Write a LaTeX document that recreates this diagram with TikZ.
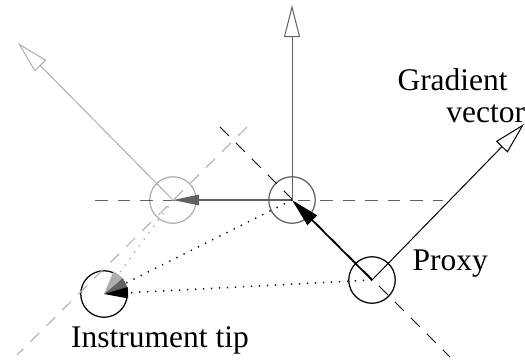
\documentclass[tikz,border=0pt]{standalone}
\usepackage{fontspec}
\setmainfont{Liberation Serif}
\usetikzlibrary{arrows.meta}
\definecolor{darkgrey}{gray}{0.38}
\definecolor{palegrey}{gray}{0.68}

\begin{document}
\begin{tikzpicture}[
  x=0.4pt, y=-0.4pt,
  font=\fontsize{12.6}{12.8}\selectfont,
  ring/.style={draw, circle, minimum size=18.6pt, inner sep=0pt, line width=0.5pt},
  guide/.style={dash pattern=on 5pt off 4pt, line width=0.4pt},
  trail/.style={dash pattern=on 0.5pt off 2.7pt, line width=0.6pt},
  vec/.style={-{Triangle[open, length=12.8pt, width=6.4pt]}, line width=0.4pt},
  move/.style={-{Triangle[length=11.5pt, width=5.4pt]}, line width=0.6pt},
  pull/.style={-{Triangle[length=9.6pt, width=4.4pt, color=#1]}},
  lbl/.style={inner sep=0pt}
]
  \useasboundingbox (0,0) rectangle (525,362);

  % positions of the tip, the proxy and the two constraint steps
  \node[ring, palegrey] (prev) at (173,200) {};
  \node[ring, darkgrey] (mid) at (292,200) {};
  \node[ring] (proxy) at (372,280) {};
  \node[ring] (tip) at (104,294) {};

  \coordinate (hW) at (95,200);
  \coordinate (hE) at (443,200);
  \coordinate (dA) at (220,127);
  \coordinate (dB) at (450,357);
  \coordinate (gA) at (247,127);
  \coordinate (gB) at (17,355);
  \coordinate (upEnd) at (292,5);
  \coordinate (oldEnd) at (18,43);
  \coordinate (gradEnd) at (524,124);

  % constraint planes
  \draw[guide, darkgrey] (hW) -- (hE);
  \draw[guide] (dA) -- (dB);
  \draw[guide, palegrey] (gA) -- (gB);

  % surface normals and gradient
  \draw[vec, darkgrey] (mid.center) -- (upEnd);
  \draw[vec, palegrey] (prev.center) -- (oldEnd);
  \draw[vec] (proxy.center) -- (gradEnd);

  % proxy moves
  \draw[move] (proxy.center) -- (mid.center);
  \draw[move, darkgrey, -{Triangle[length=10.4pt, width=4.2pt]}] (mid.center) -- (prev.center);

  % springs to the instrument tip
  \draw[trail, palegrey, pull=palegrey] (prev.center) -- (tip.center);
  \draw[trail, pull=darkgrey] (mid.center) -- (tip.center);
  \draw[trail, pull=black] (proxy.center) -- (tip.center);

  \node[lbl, anchor=base west] (proxylbl) at (412,270) {Proxy};
  \node[lbl, anchor=base] (tiplbl) at (160,347) {Instrument tip};
  \node[lbl, anchor=base west, align=left] (gradlbl) at (397,122) {Gradient\\\hspace*{1.55em}vector};
\end{tikzpicture}
\end{document}
